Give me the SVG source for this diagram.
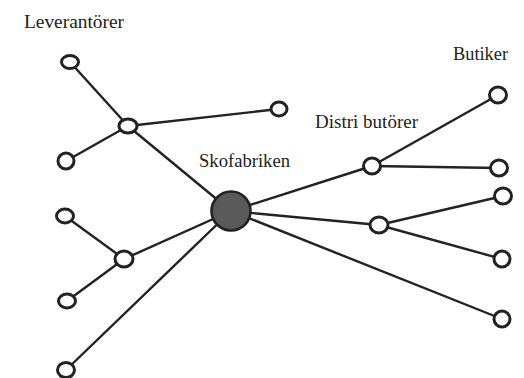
<svg xmlns="http://www.w3.org/2000/svg" width="524" height="378" viewBox="0 0 524 378">
<style>
.e{stroke:#222;stroke-width:2.4;fill:none}
.n{stroke:#222;stroke-width:3;fill:#fff}
.c{stroke:#222;stroke-width:2.6;fill:#5a5a5a}
.t{font-family:"Liberation Serif","Times New Roman",serif;font-size:18px;fill:#222}
</style>
<rect width="524" height="378" fill="#fff"/>
<g id="connectors">
<line class="e" x1="70" y1="62" x2="128" y2="126"/>
<line class="e" x1="128" y1="126" x2="279" y2="109"/>
<line class="e" x1="66" y1="161" x2="128" y2="126"/>
<line class="e" x1="128" y1="126" x2="231" y2="211"/>
<line class="e" x1="65" y1="216" x2="124" y2="259"/>
<line class="e" x1="67" y1="301" x2="124" y2="259"/>
<line class="e" x1="124" y1="259" x2="231" y2="211"/>
<line class="e" x1="66" y1="370" x2="231" y2="211"/>
<line class="e" x1="231" y1="211" x2="372" y2="166"/>
<line class="e" x1="372" y1="166" x2="498" y2="95"/>
<line class="e" x1="372" y1="166" x2="499" y2="168"/>
<line class="e" x1="231" y1="211" x2="379" y2="225"/>
<line class="e" x1="379" y1="225" x2="503" y2="196"/>
<line class="e" x1="379" y1="225" x2="502" y2="259"/>
<line class="e" x1="231" y1="211" x2="502" y2="319"/>
</g>
<g id="leverantorer-label"><text class="t" x="24" y="28" textLength="100" lengthAdjust="spacingAndGlyphs">Leverantörer</text></g>
<g id="skofabriken-label"><text class="t" x="199" y="167" textLength="91" lengthAdjust="spacingAndGlyphs">Skofabriken</text></g>
<g id="distributorer-label"><text class="t" x="315" y="128" textLength="103" lengthAdjust="spacingAndGlyphs">Distri butörer</text></g>
<g id="butiker-label"><text class="t" x="453" y="60" textLength="55" lengthAdjust="spacingAndGlyphs">Butiker</text></g>
<g id="L1"><ellipse class="n" cx="70" cy="62" rx="8.5" ry="6.5"/></g>
<g id="H1"><ellipse class="n" cx="128" cy="126" rx="9" ry="7"/></g>
<g id="L2"><ellipse class="n" cx="66" cy="161" rx="8" ry="8"/></g>
<g id="R1"><ellipse class="n" cx="279" cy="109" rx="8" ry="7"/></g>
<g id="L3"><ellipse class="n" cx="65" cy="216" rx="8.5" ry="7"/></g>
<g id="H2"><ellipse class="n" cx="124" cy="259" rx="9" ry="8"/></g>
<g id="L4"><ellipse class="n" cx="67" cy="301" rx="8.5" ry="7"/></g>
<g id="L5"><ellipse class="n" cx="66" cy="370" rx="8.5" ry="7.5"/></g>
<g id="skofabriken"><circle class="c" cx="231" cy="211" r="19.5"/></g>
<g id="D1"><ellipse class="n" cx="372" cy="166" rx="8.5" ry="8"/></g>
<g id="D2"><ellipse class="n" cx="379" cy="225" rx="9" ry="8"/></g>
<g id="B1"><ellipse class="n" cx="498" cy="95" rx="8.5" ry="8"/></g>
<g id="B2"><ellipse class="n" cx="499" cy="168" rx="8.5" ry="8"/></g>
<g id="B3"><ellipse class="n" cx="503" cy="196" rx="8.5" ry="8"/></g>
<g id="B4"><ellipse class="n" cx="502" cy="259" rx="8" ry="8"/></g>
<g id="B5"><ellipse class="n" cx="502" cy="319" rx="8" ry="8"/></g>
</svg>
